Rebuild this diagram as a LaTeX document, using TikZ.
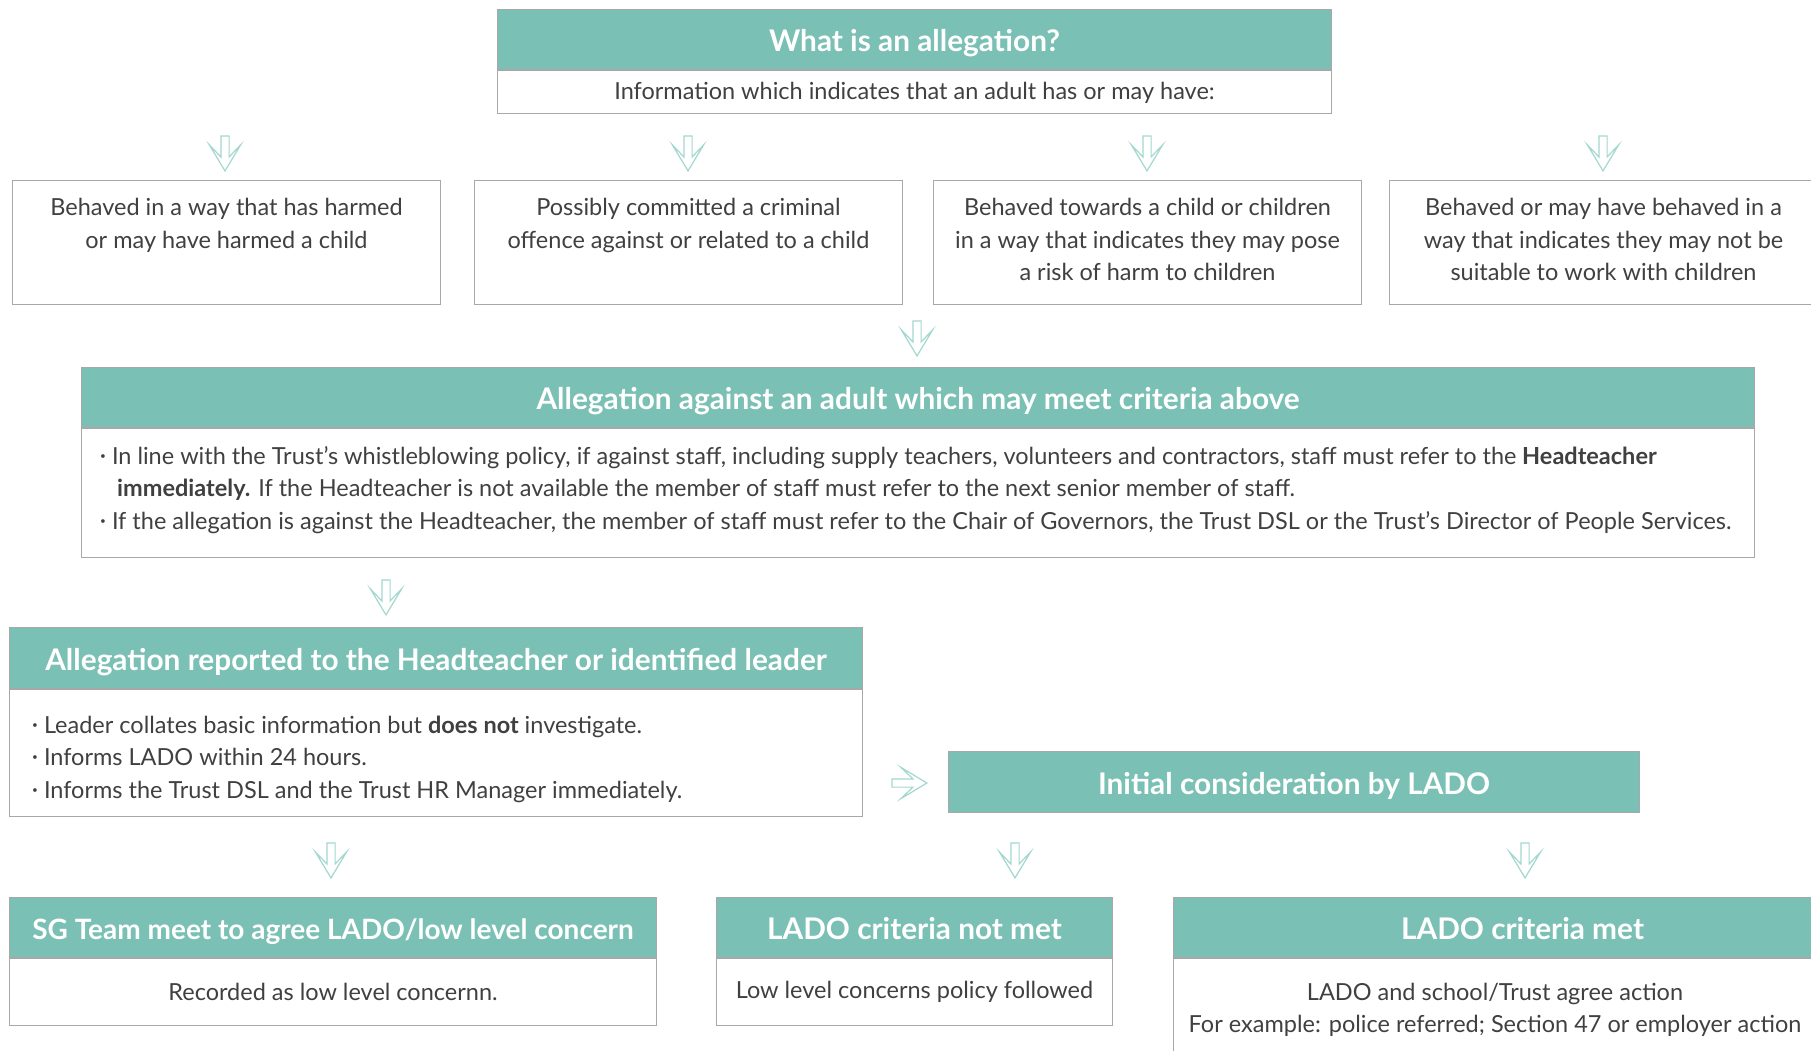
\documentclass[tikz,border=0pt]{standalone}
\usepackage{fontspec}
\setmainfont{Lato}
\usetikzlibrary{positioning,shapes.arrows}

\definecolor{headteal}{HTML}{7BC0B4}
\definecolor{arrowteal}{HTML}{A2D8D0}
\definecolor{boxgrey}{HTML}{A8A8A8}
\definecolor{textgrey}{HTML}{404040}

\newcommand{\listdot}{\raisebox{0.2em}{\fontsize{10}{10}\selectfont•}}

\tikzset{
  head/.style={fill=headteal, draw=boxgrey, line width=1pt, text=white,
    font=\fontsize{29.8}{32}\selectfont\bfseries, inner sep=0pt, anchor=north west,
    text height=24pt, text depth=0pt},
  body/.style={fill=white, draw=boxgrey, line width=1pt, inner sep=0pt, anchor=north},
  txt/.style={text=textgrey, font=\fontsize{23.5}{32.5}\selectfont, align=center, inner sep=0pt},
  blockarrow/.style={single arrow, draw=arrowteal, fill=white, line width=1.2pt,
    minimum height=35pt, inner sep=3.5pt, single arrow head extend=11.5pt,
    single arrow tip angle=62, single arrow head indent=12pt},
  downarrow/.style={blockarrow, rotate=-90},
}

\begin{document}
\begin{tikzpicture}[x=1pt,y=-1pt]
   \useasboundingbox (0,0) rectangle (1811,1050);
   \clip (0,0) rectangle (1811,1050);
   % what is an allegation
   \node[head, minimum width=834pt, minimum height=60pt] (whathead) at (497,9) {What is an allegation?};
   \node[body, txt, minimum width=834pt, minimum height=43pt, text depth=2pt] (whatbody) at (whathead.south) {Information which indicates that an adult has or may have:};
   \node[downarrow] (arr1) at (225,150) {};
   \node[downarrow] (arr2) at (688,150) {};
   \node[downarrow] (arr3) at (1147,150) {};
   \node[downarrow] (arr4) at (1603,150) {};
   % the four kinds
   \node[body, anchor=north west, minimum width=428pt, minimum height=124pt] (harm) at (12,180) {};
   \node[body, anchor=north west, minimum width=428pt, minimum height=124pt] (crime) at (474,180) {};
   \node[body, anchor=north west, minimum width=428pt, minimum height=124pt] (risk) at (933,180) {};
   \node[body, anchor=north west, minimum width=428pt, minimum height=124pt] (suit) at (1389,180) {};
   \node[txt, anchor=north] (harmtxt) at ([yshift=-18pt]harm.north) {Behaved in a way that has harmed\\or may have harmed a child};
   \node[txt, anchor=north] (crimetxt) at ([yshift=-18pt]crime.north) {Possibly committed a criminal\\offence against or related to a child};
   \node[txt, anchor=north] (risktxt) at ([yshift=-18pt]risk.north) {Behaved towards a child or children\\in a way that indicates they may pose\\a risk of harm to children};
   \node[txt, anchor=north] (suittxt) at ([yshift=-18pt]suit.north) {Behaved or may have behaved in a\\way that indicates they may not be\\suitable to work with children};
   \node[downarrow] (arr5) at (917,335) {};
   % criteria
   \node[head, minimum width=1673pt, minimum height=60pt] (crithead) at (81,367) {Allegation against an adult which may meet criteria above};
   \node[body, minimum width=1673pt, minimum height=129pt] (critbody) at (crithead.south) {};
   \node[txt, align=left, anchor=west] (crittxt) at (100,490) {\listdot\ In line with the Trust’s whistleblowing policy, if against staff, including supply teachers, volunteers and contractors, staff must refer to the \textbf{Headteacher}\\
     \hspace*{17pt}\textbf{immediately.} If the Headteacher is not available the member of staff must refer to the next senior member of staff.\\
     \listdot\ If the allegation is against the Headteacher, the member of staff must refer to the Chair of Governors, the Trust DSL or the Trust’s Director of People Services.};
   \node[downarrow] (arr6) at (386,594) {};
   % reported
   \node[head, minimum width=853pt, minimum height=61pt] (rephead) at (9,627) {Allegation reported to the Headteacher or identified leader};
   \node[body, minimum width=853pt, minimum height=127pt] (repbody) at (rephead.south) {};
   \node[txt, align=left, anchor=west] (reptxt) at (32,759) {\listdot\ Leader collates basic information but \textbf{does not} investigate.\\
     \listdot\ Informs LADO within 24 hours.\\
     \listdot\ Informs the Trust DSL and the Trust HR Manager immediately.};
   \node[blockarrow] (arr7) at (906,783) {};
   \node[head, minimum width=691pt, minimum height=61pt] (lado) at (948,751) {Initial consideration by LADO};
   \node[downarrow] (arr8) at (331,857) {};
   \node[downarrow] (arr9) at (1015,857) {};
   \node[downarrow] (arr10) at (1525,857) {};
   % outcomes
   \node[head, minimum width=647pt, minimum height=60pt, font=\fontsize{28}{32}\selectfont\bfseries] (sghead) at (9,897) {SG Team meet to agree LADO/low level concern};
   \node[body, txt, minimum width=647pt, minimum height=67pt] (sgbody) at (sghead.south) {Recorded as low level concernn.};
   \node[head, minimum width=396pt, minimum height=60pt] (nothead) at (716,897) {LADO criteria not met};
   \node[body, txt, minimum width=396pt, minimum height=67pt] (notbody) at (nothead.south) {Low level concerns policy followed};
   \node[head, minimum width=698pt, minimum height=60pt] (methead) at (1173,897) {LADO criteria met};
   \node[body, minimum width=698pt, minimum height=120pt] (metbody) at (methead.south) {};
   \node[txt] (mettxt) at (1495,1010) {LADO and school/Trust agree action\\For example: police referred; Section 47 or employer action};
\end{tikzpicture}
\end{document}
